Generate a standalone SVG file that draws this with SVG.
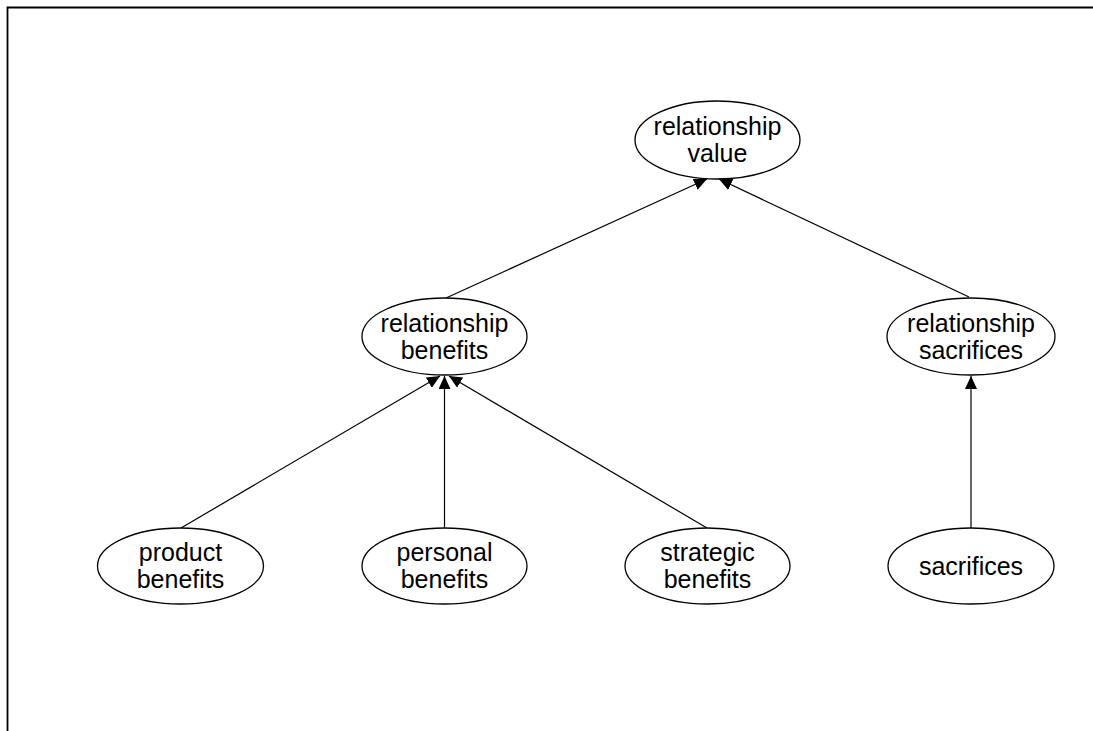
<svg xmlns="http://www.w3.org/2000/svg" width="1093" height="731" viewBox="0 0 1093 731">
<style>
.node ellipse{fill:#fff;stroke:#000;stroke-width:1.3}
.node text{font-family:"Liberation Sans",Arial,sans-serif;font-size:25px;fill:#000;text-anchor:middle}
.conn line{stroke:#000;stroke-width:1.2;marker-end:url(#ah)}
</style>
<defs>
<marker id="ah" markerUnits="userSpaceOnUse" markerWidth="14" markerHeight="12" refX="13" refY="6" orient="auto">
<path d="M0,0 L13,6 L0,12 z" fill="#000"/>
</marker>
</defs>
<rect width="1093" height="731" fill="#fff"/>
<path d="M7.5,731 V7.5 H1093" fill="none" stroke="#000" stroke-width="1.8"/>
<g id="connectors" class="conn">
<line x1="446" y1="298" x2="707" y2="179"/>
<line x1="969" y1="297" x2="719" y2="179"/>
<line x1="181" y1="528" x2="440" y2="376"/>
<line x1="444.5" y1="528" x2="444.5" y2="376"/>
<line x1="707" y1="528" x2="449" y2="376"/>
<line x1="971" y1="529" x2="971" y2="376"/>
</g>
<g id="relationship-value" class="node">
<ellipse cx="717.5" cy="140" rx="82.5" ry="39"/>
<text x="717.5" y="135">relationship</text>
<text x="717.5" y="162">value</text>
</g>
<g id="relationship-benefits" class="node">
<ellipse cx="444.5" cy="336.5" rx="82.5" ry="38.5"/>
<text x="444.5" y="331.5">relationship</text>
<text x="444.5" y="358.5">benefits</text>
</g>
<g id="relationship-sacrifices" class="node">
<ellipse cx="971" cy="336.5" rx="84" ry="38.5"/>
<text x="971" y="331.5">relationship</text>
<text x="971" y="358.5">sacrifices</text>
</g>
<g id="product-benefits" class="node">
<ellipse cx="180.5" cy="566" rx="83" ry="38"/>
<text x="180.5" y="561">product</text>
<text x="180.5" y="588">benefits</text>
</g>
<g id="personal-benefits" class="node">
<ellipse cx="444.5" cy="566" rx="82.5" ry="38"/>
<text x="444.5" y="561">personal</text>
<text x="444.5" y="588">benefits</text>
</g>
<g id="strategic-benefits" class="node">
<ellipse cx="707.5" cy="566" rx="82.5" ry="38"/>
<text x="707.5" y="561">strategic</text>
<text x="707.5" y="588">benefits</text>
</g>
<g id="sacrifices" class="node">
<ellipse cx="971" cy="566" rx="83" ry="38"/>
<text x="971" y="575">sacrifices</text>
</g>
</svg>
